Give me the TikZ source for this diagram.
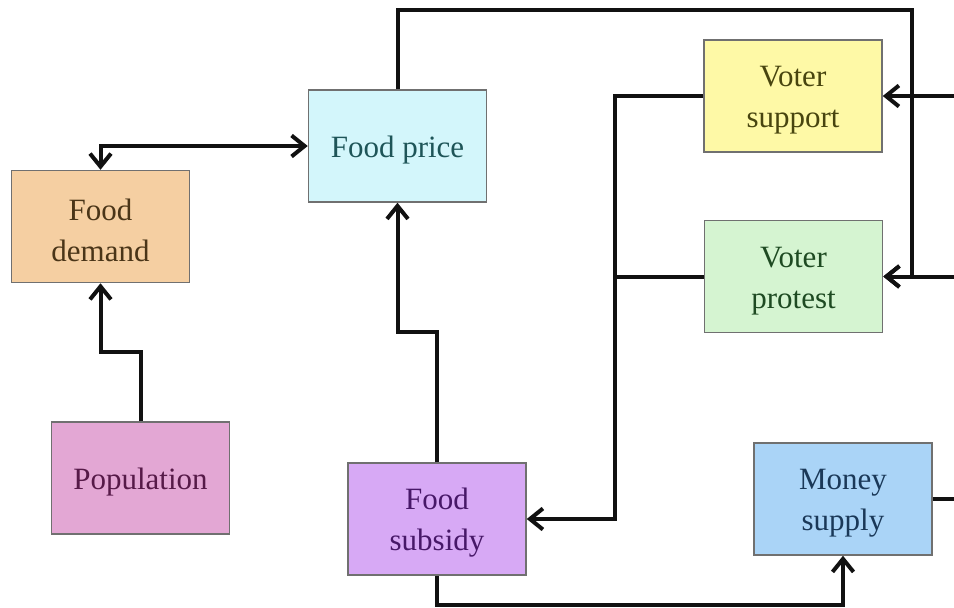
\documentclass[tikz,border=0pt]{standalone}
\usepackage{fontspec}
\setmainfont{Liberation Serif}
\usetikzlibrary{arrows.meta}
\definecolor{fdF}{HTML}{F5CFA2}\definecolor{fdT}{HTML}{4A3518}
\definecolor{fpF}{HTML}{D3F6FB}\definecolor{fpT}{HTML}{1E5558}
\definecolor{vsF}{HTML}{FEF9A6}\definecolor{vsT}{HTML}{48450F}
\definecolor{vpF}{HTML}{D5F4D1}\definecolor{vpT}{HTML}{1E4A22}
\definecolor{poF}{HTML}{E3A7D4}\definecolor{poT}{HTML}{561A48}
\definecolor{fsF}{HTML}{D7A9F5}\definecolor{fsT}{HTML}{471868}
\definecolor{msF}{HTML}{AAD4F7}\definecolor{msT}{HTML}{1A3858}
\definecolor{edge}{HTML}{707070}
\definecolor{wire}{HTML}{111111}
\tikzset{
  box/.style={draw=edge, line width=1.5pt, minimum width=178pt, minimum height=112pt,
    inner sep=0pt, align=center, font=\fontsize{31}{41}\selectfont, text height=29pt},
  boxtwo/.style={box, text height=70pt},
  wireline/.style={draw=wire, line width=4pt, line join=miter},
  tipbarb/.tip={Straight Barb[length=13pt,width=21pt]},
  arr/.style={wireline, -tipbarb},
  arrboth/.style={wireline, tipbarb-tipbarb}
}
\begin{document}
\begin{tikzpicture}[x=1pt,y=-1pt]
\useasboundingbox (0,0) rectangle (954,608);
\node[boxtwo, fill=fdF, text=fdT] (fd) at (100.5,226.5) {Food\\demand};
\node[box, fill=fpF, text=fpT] (fp) at (397.5,146) {Food price};
\node[boxtwo, fill=vsF, text=vsT] (vs) at (793,96) {Voter\\support};
\node[boxtwo, fill=vpF, text=vpT] (vp) at (793.5,276.5) {Voter\\protest};
\node[box, fill=poF, text=poT] (po) at (140.5,478) {Population};
\node[boxtwo, fill=fsF, text=fsT] (fs) at (437,519) {Food\\subsidy};
\node[boxtwo, fill=msF, text=msT] (ms) at (843,499) {Money\\supply};
\coordinate (tr) at (912,10);
\coordinate (e1) at (954,96);
\coordinate (e2) at (954,276.5);
\coordinate (e3) at (954,499);
\coordinate (j1) at (615,96);
\coordinate (j2) at (615,276.5);
\coordinate (k1) at (437,332);
\coordinate (k2) at (397.5,332);
\coordinate (p1) at (140.5,352);
\coordinate (p2) at (100.5,352);
\coordinate (m1) at (640,605);
\draw[arr] (fp.north) |- (tr) |- (vp.east);
\draw[arr] (e1) -- (vs.east);
\draw[arr] (e2) -- (vp.east);
\draw[wireline] (ms.east) -- (e3);
\draw[arr] (vs.west) -- (j1) |- (fs.east);
\draw[wireline] (vp.west) -- (j2);
\draw[arr] (fs.north) -- (k1) -- (k2) -- (fp.south);
\draw[arr] (po.north) -- (p1) -- (p2) -- (fd.south);
\draw[arrboth] (fd.north) |- (fp.west);
\draw[arr] (fs.south) |- (m1) -| (ms.south);
\end{tikzpicture}
\end{document}
